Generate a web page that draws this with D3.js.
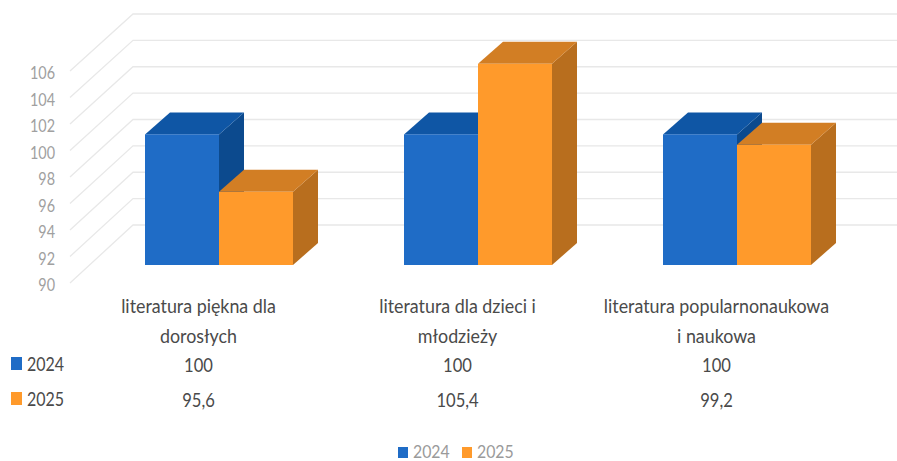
<!DOCTYPE html>
<html><head><meta charset="utf-8">
<script src="https://cdn.jsdelivr.net/npm/d3@7/dist/d3.min.js"></script>
<style>html,body{margin:0;background:#fff}svg{display:block}text{font-family:Lato,sans-serif}</style>
</head><body><svg id="c" width="897" height="461"></svg>
<script>
const categories = ["literatura piękna dla dorosłych","literatura dla dzieci i młodzieży","literatura popularnonaukowa i naukowa"];
const categoryLines = [["literatura piękna dla","dorosłych"],["literatura dla dzieci i","młodzieży"],["literatura popularnonaukowa","i naukowa"]];
const seriesNames = ["2024","2025"];
const values2024 = [100,100,100];
const values2025 = [95.6,105.4,99.2];
const labels2024 = ["100","100","100"];
const labels2025 = ["95,6","105,4","99,2"];
const yTicks = [90,92,94,96,98,100,102,104,106];
const front = ["#1f6cc6","#ff9a2b"], top_ = ["#0f56a5","#d27e24"], side = ["#0c4a8e","#b86e1e"];

const svg = d3.select("#c");
const DX = 25, DY = -22;
const yFront = d3.scaleLinear([90,106],[265,56]);
const yWall = d3.scaleLinear([90,106],[225,14]);
const yLabel = d3.scaleLinear([90,106],[283,71]);
const xCat = d3.scalePoint(categories,[219,737]);
const xSer = d3.scaleBand(seriesNames,[-74,74]);

function label(str,x,y,size,sx,fill,anchor){
  return svg.append("text").text(str).attr("transform",`translate(${x},${y}) scale(${sx},1)`)
    .attr("text-anchor",anchor).attr("fill",fill).style("font-size",size+"px");
}

const ax = svg.append("g").attr("transform","translate(55,0)").call(d3.axisLeft(yLabel).tickValues(yTicks).tickSize(0).tickPadding(0));
ax.select(".domain").remove();
ax.selectAll("text").attr("fill","#a0a0a0").attr("transform","translate(0,2) scale(.8,1)").style("font-size","18px").style("font-family","Lato,sans-serif");

svg.append("g").selectAll("path").data(yTicks).join("path")
  .attr("d",t=>`M70,${yLabel(t)}L133,${yWall(t)}H897`)
  .attr("fill","none").attr("stroke","#e8e8e8").attr("stroke-width",1.3);

const rows = categories.flatMap((c,i)=>seriesNames.map((s,j)=>({c,s,j,v:[values2024,values2025][j][i]})));
const g = svg.append("g").selectAll("g").data(rows).join("g");
const X = d=>xCat(d.c)+xSer(d.s), W = xSer.bandwidth();
g.append("path").attr("fill",d=>side[d.j]).attr("d",d=>{
  const x=X(d)+W,y=yFront(d.v),b=yFront(90);
  return `M${x},${y}l${DX},${DY}V${b+DY}L${x},${b}Z`;});
g.append("path").attr("fill",d=>top_[d.j]).attr("d",d=>{
  const x=X(d),y=yFront(d.v);
  return `M${x},${y}l${DX},${DY}h${W}l${-DX},${-DY}Z`;});
g.append("rect").attr("fill",d=>front[d.j]).attr("x",X).attr("width",W)
  .attr("y",d=>yFront(d.v)).attr("height",d=>yFront(90)-yFront(d.v));

const ink="#4a4a4a";
categories.forEach((c,i)=>{
  const cx=xCat(c)-20.5;
  categoryLines[i].forEach((l,k)=>label(l,cx,313+k*30,19,.94,ink,"middle"));
  [labels2024,labels2025].forEach((arr,k)=>label(arr[i],cx,372+k*35,19.5,.85,ink,"middle"));
});
seriesNames.forEach((s,k)=>{
  svg.append("rect").attr("x",11).attr("y",357+k*35).attr("width",11).attr("height",13).attr("fill",front[k]);
  label(s,27,371+k*35,19.5,.82,ink,"start");
});
seriesNames.forEach((s,k)=>{
  const x=398+k*64;
  svg.append("rect").attr("x",x).attr("y",447).attr("width",10).attr("height",11).attr("fill",front[k]);
  label(s,x+15,458,18,.88,"#9a9a9a","start");
});
</script></body></html>
